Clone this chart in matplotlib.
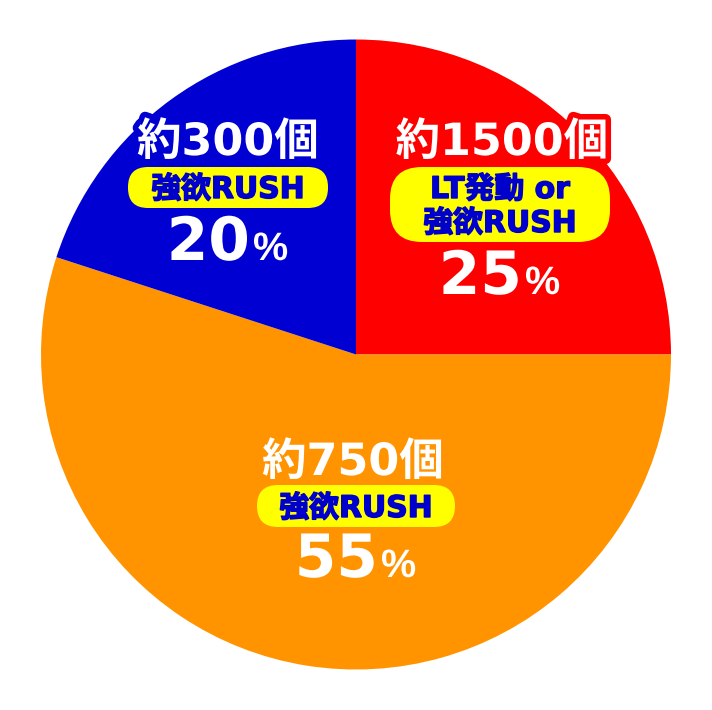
import matplotlib
matplotlib.use("Agg")
import matplotlib.pyplot as plt
from matplotlib.patches import FancyBboxPatch
import matplotlib.patheffects as pe

# data
labels_count = ["約1500個", "約750個", "約300個"]
labels_type = ["LT発動 or\n強欲RUSH", "強欲RUSH", "強欲RUSH"]
shares = [25, 55, 20]
colors = ["#FF0000", "#FF9400", "#0000D2"]

W, H = 712, 710
fig = plt.figure(figsize=(W / 100, H / 100), dpi=100)
ax = fig.add_axes([0, 0, 1, 1])
ax.set_xlim(0, W)
ax.set_ylim(0, H)
ax.set_aspect("equal")
ax.axis("off")

cx, cy, r = 356, H - 354.5, 315
ax.pie(shares, colors=colors, startangle=90, counterclock=False,
       center=(cx, cy), radius=r, wedgeprops=dict(linewidth=0))
ax.set_xlim(0, W)
ax.set_ylim(0, H)

fam_mix = ["DejaVu Sans", "Noto Sans CJK JP"]
blue_text = "#0000CC"

# layout per slice (image pixel coords): count (x, baseline), pill box,
# type text baselines, percent (digits right edge, baseline)
layout = [
    dict(count=(502, 155), pill=(390, 167, 610, 242), rs=32,
         tb=[198, 232], pct=(522, 294)),
    dict(count=(353, 475), pill=(257, 485, 455, 527), rs=21,
         tb=[517], pct=(378, 577)),
    dict(count=(228, 155), pill=(128, 167, 328, 208), rs=20,
         tb=[198], pct=(250, 260)),
]

for i, L in enumerate(layout):
    col = colors[i]
    stroke = [pe.withStroke(linewidth=8, foreground=col)]
    x, y = L["count"]
    ax.text(x, H - y, labels_count[i], ha="center", va="baseline",
            fontsize=32, fontweight="bold", color="white",
            family=fam_mix, path_effects=stroke, zorder=5)
    x0, y0, x1, y1 = L["pill"]
    ax.add_patch(FancyBboxPatch((x0, H - y1), x1 - x0, y1 - y0,
                                boxstyle=f"round,pad=0,rounding_size={L['rs']}",
                                facecolor="#FFFF00", edgecolor="none", zorder=4))
    for line, by in zip(labels_type[i].split("\n"), L["tb"]):
        ax.text((x0 + x1) / 2, H - by, line, ha="center", va="baseline",
                fontsize=21.5, fontweight="bold", color=blue_text, family=fam_mix,
                path_effects=[pe.withStroke(linewidth=1.0, foreground=blue_text)],
                zorder=5)
    px, py = L["pct"]
    ax.text(px, H - py, f"{shares[i]}", ha="right", va="baseline",
            fontsize=43, fontweight="bold", color="white", family=fam_mix,
            path_effects=stroke, zorder=5)
    ax.text(px + 3, H - py, "%", ha="left", va="baseline",
            fontsize=28.5, fontweight="bold", color="white",
            family=["Liberation Sans", "DejaVu Sans"],
            path_effects=stroke, zorder=5)

fig.savefig("out.png", dpi=100)
